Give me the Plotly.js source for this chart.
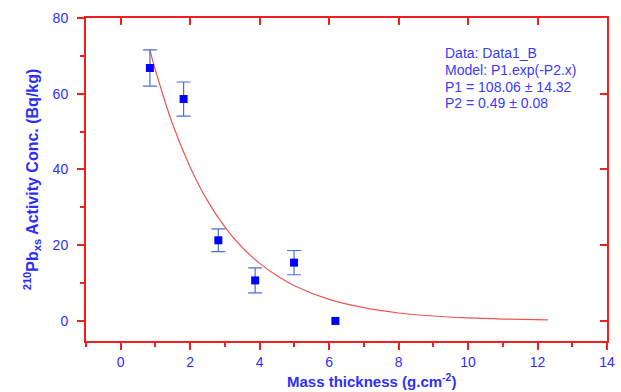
<!DOCTYPE html>
<html><head><meta charset="utf-8">
<script src="https://cdn.plot.ly/plotly-3.0.1.min.js"></script>
<style>html,body{margin:0;padding:0;background:#fff}#chart{width:621px;height:392px}</style>
</head><body><div id="chart"></div>
<script>
// Measured data (mass thickness, activity, error)
const massThickness = [0.84, 1.81, 2.81, 3.87, 4.99, 6.18];
const activity = [66.8, 58.6, 21.3, 10.7, 15.4, 0.0];
const activityErr = [4.8, 4.5, 3.0, 3.3, 3.2, 0];
// Fitted curve P1.exp(-P2.x)
const fitX = [0.84, 1, 1.5, 2, 2.5, 3, 3.5, 4, 4.5, 5, 6, 7, 8, 9, 10, 11, 12.3];
const fitY = [71.6, 66.2, 51.8, 40.6, 31.7, 24.8, 19.4, 15.2, 11.9, 9.3, 5.7, 3.5, 2.1, 1.3, 0.8, 0.5, 0.26];
const xTicks = [0, 2, 4, 6, 8, 10, 12, 14];
const yTicks = [0, 20, 40, 60, 80];
const fitText = ["Data: Data1_B", "Model: P1.exp(-P2.x)", "P1 = 108.06 \u00b1 14.32", "P2 = 0.49 \u00b1 0.08"];

const red = "#f02020";
const blue = "#2e2eff";
const font = "Liberation Sans, Arial, sans-serif";

const withErr = massThickness.map((_, i) => i).filter(i => activityErr[i] > 0);
const noErr = massThickness.map((_, i) => i).filter(i => !(activityErr[i] > 0));

const traces = [
  {x: fitX, y: fitY, type: "scatter", mode: "lines", line: {color: "#f05555", width: 1.2, shape: "spline"}, hoverinfo: "skip"},
  {x: withErr.map(i => massThickness[i]), y: withErr.map(i => activity[i]), type: "scatter", mode: "markers",
   marker: {symbol: "square", size: 8, color: "#0000ff"},
   error_y: {type: "data", array: withErr.map(i => activityErr[i]), visible: true, color: "#4a6fd8", thickness: 1.2, width: 7}},
  {x: noErr.map(i => massThickness[i]), y: noErr.map(i => activity[i]), type: "scatter", mode: "markers",
   marker: {symbol: "square", size: 8, color: "#0000ff"}},
  // frame axes (top and right) carry no data
  {x: [xTicks[0]], y: [yTicks[0]], xaxis: "x2", yaxis: "y2", type: "scatter", mode: "markers",
   marker: {opacity: 0}, hoverinfo: "skip"}
];

const frameAxis = {showticklabels: false, showgrid: false, zeroline: false, showline: true, linecolor: red, linewidth: 2,
  ticks: "inside", ticklen: 7, tickwidth: 2, tickcolor: red};

const statLineY = [0.891, 0.839, 0.787, 0.736];

const layout = {
  width: 621, height: 392,
  margin: {l: 86, r: 14, t: 18, b: 51},
  paper_bgcolor: "#fff", plot_bgcolor: "#fff",
  showlegend: false,
  font: {family: font, color: blue},
  xaxis: {range: [-1, 14], tickvals: xTicks, ticktext: xTicks.map(String), showgrid: false, zeroline: false,
    showline: true, linecolor: red, linewidth: 2, ticks: "outside", ticklen: 7, tickwidth: 2, tickcolor: red,
    tickfont: {size: 14, color: blue, family: font},
    minor: {dtick: 1, tick0: 0, ticks: "outside", ticklen: 4, tickwidth: 2, tickcolor: red}},
  yaxis: {range: [-5.3, 80], tickvals: yTicks, ticktext: yTicks.map(String), showgrid: false, zeroline: false,
    showline: true, linecolor: red, linewidth: 2, ticks: "outside", ticklen: 7, tickwidth: 2, tickcolor: red,
    tickfont: {size: 14, color: blue, family: font}, ticklabelstandoff: 6,
    minor: {dtick: 10, tick0: 0, ticks: "outside", ticklen: 4, tickwidth: 2, tickcolor: red},
    title: {text: "<sup>210</sup>Pb<sub>xs</sub> Activity Conc. (Bq/kg)", font: {size: 16, color: blue, family: font, weight: "bold"}, standoff: 10}},
  xaxis2: Object.assign({overlaying: "x", side: "top", anchor: "y2", range: [-1, 14], tickvals: xTicks}, frameAxis),
  yaxis2: Object.assign({overlaying: "y", side: "right", anchor: "x2", range: [-5.3, 80], tickvals: yTicks}, frameAxis),
  annotations: [
    {xref: "paper", yref: "paper", x: 0.548, y: -0.122, xanchor: "center", yanchor: "middle", showarrow: false,
     text: "<b>Mass thickness (g.cm<sup>-2</sup>)</b>", font: {size: 15, color: blue, family: font}}
  ].concat(fitText.map((t, i) => ({
    xref: "paper", yref: "paper", x: 0.6855, y: statLineY[i], xanchor: "left", yanchor: "middle", showarrow: false,
    text: t, font: {size: 14, color: "#3a3aff", family: font}
  })))
};

Plotly.newPlot("chart", traces, layout, {staticPlot: true, displayModeBar: false});
</script></body></html>
